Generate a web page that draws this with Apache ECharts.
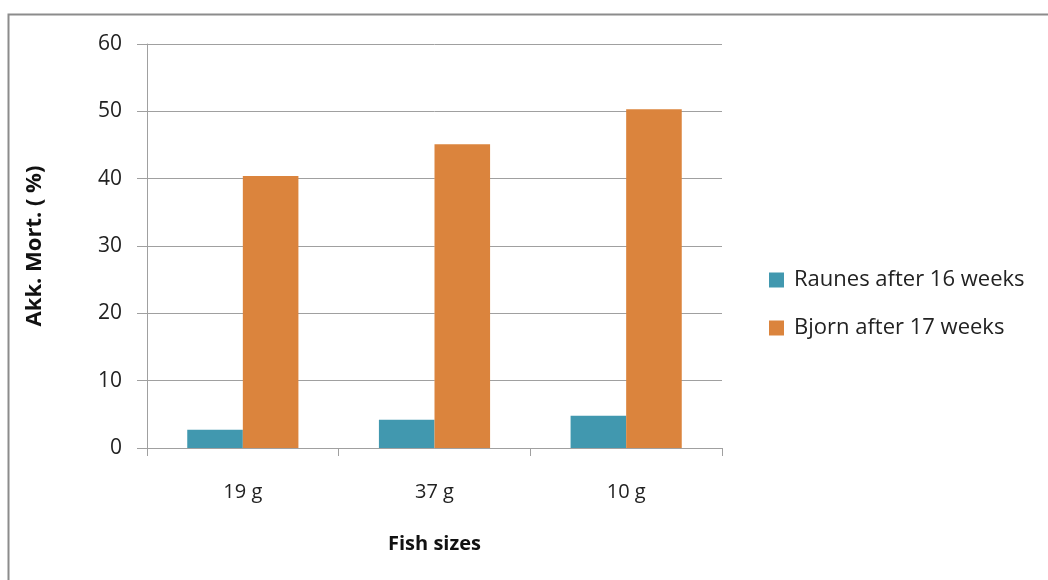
<!DOCTYPE html>
<html>
<head>
<meta charset="utf-8">
<script src="https://cdn.jsdelivr.net/npm/echarts@6/dist/echarts.min.js"></script>
<style>
  html, body { margin: 0; padding: 0; background: #fff; }
  #chart { width: 1048px; height: 580px; }
</style>
</head>
<body>
<div id="chart"></div>
<script>
const categories = ["19 g", "37 g", "10 g"];
const raunes = [2.7, 4.2, 4.8];
const bjorn = [40.4, 45.1, 50.3];
const seriesNames = ["Raunes after 16 weeks", "Bjorn after 17 weeks"];

const font = "'Open Sans', 'Noto Sans', sans-serif";
const chart = echarts.init(document.getElementById("chart"));

chart.setOption({
  animation: false,
  textStyle: { fontFamily: font },
  graphic: [
    {
      type: "rect",
      shape: { x: 8.5, y: 14.5, width: 1060, height: 600 },
      style: { fill: "none", stroke: "#8c8c8c", lineWidth: 2 },
      z: -1
    }
  ],
  grid: { left: 147, right: 326, top: 44, bottom: 132 },
  legend: {
    orient: "vertical",
    left: 764,
    top: 264,
    itemGap: 26,
    itemWidth: 15,
    itemHeight: 15,
    icon: "rect",
    data: seriesNames,
    textStyle: { fontSize: 22, color: "#222", fontFamily: font, padding: [0, 0, 0, 5] }
  },
  xAxis: {
    type: "category",
    data: categories,
    name: "Fish sizes",
    nameLocation: "middle",
    nameGap: 86,
    nameTextStyle: { fontSize: 20, fontWeight: "bold", color: "#111" },
    axisLine: { lineStyle: { color: "#a0a0a0", width: 1 } },
    axisTick: { show: true, length: 8, lineStyle: { color: "#a0a0a0" } },
    axisLabel: { fontSize: 20, color: "#222", margin: 34 }
  },
  yAxis: {
    type: "value",
    min: 0,
    max: 60,
    interval: 10,
    name: "Akk. Mort. ( %)",
    nameLocation: "middle",
    nameGap: 101,
    nameTextStyle: { fontSize: 22, fontWeight: "bold", color: "#111" },
    axisLine: { show: true, lineStyle: { color: "#a0a0a0", width: 1 } },
    axisTick: { show: true, length: 10, lineStyle: { color: "#a0a0a0" } },
    axisLabel: { fontSize: 21, color: "#222", margin: 25 },
    splitLine: { lineStyle: { color: "#a0a0a0", width: 1 } }
  },
  series: [
    {
      name: seriesNames[0],
      type: "bar",
      data: raunes,
      barGap: "0%",
      barCategoryGap: "42%",
      itemStyle: { color: "#4198AF" }
    },
    {
      name: seriesNames[1],
      type: "bar",
      data: bjorn,
      itemStyle: { color: "#DB843D" }
    }
  ]
});
</script>
</body>
</html>
